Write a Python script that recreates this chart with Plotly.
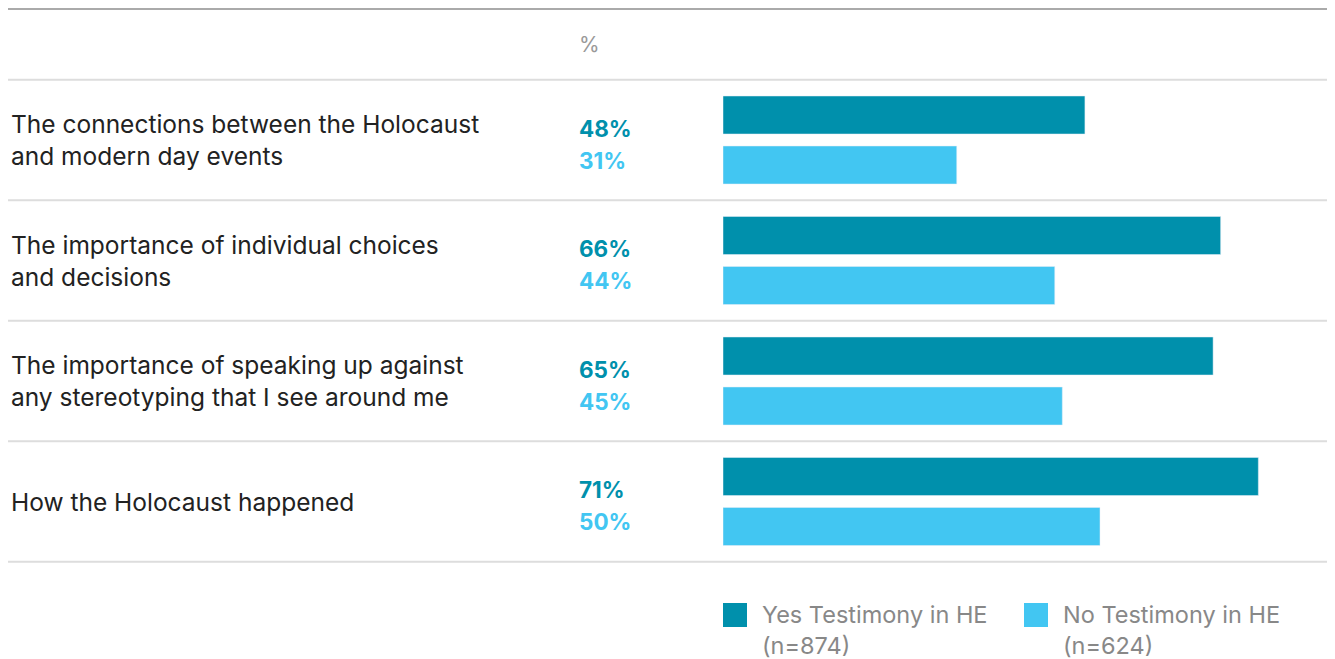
import plotly.graph_objects as go

# categories and values (percent)
statements = [
    'The connections between the Holocaust<br>and modern day events',
    'The importance of individual choices<br>and decisions',
    'The importance of speaking up against<br>any stereotyping that I see around me',
    'How the Holocaust happened',
]
yes_values = [48, 66, 65, 71]
no_values = [31, 44, 45, 50]
series_names = ['Yes Testimony in HE', 'No Testimony in HE']
series_n = ['(n=874)', '(n=624)']

YES_COLOR = '#0090AC'
NO_COLOR = '#42C6F2'
W, H = 1335, 659
FONT = 'Inter'
ROW = 120.5   # px per row
ROW0 = 132    # px from top to the centre of the first row
X0 = 715      # px where the bars start
PX_PER_PCT = 7.54

cats = list(range(len(statements)))

fig = go.Figure()
fig.add_trace(go.Bar(y=cats, x=yes_values, orientation='h', marker_color=YES_COLOR,
                     name=series_names[0], showlegend=False, hoverinfo='skip'))
fig.add_trace(go.Bar(y=cats, x=no_values, orientation='h', marker_color=NO_COLOR,
                     name=series_names[1], showlegend=False, hoverinfo='skip'))

# row labels and value labels
for i, (label, yv, nv) in enumerate(zip(statements, yes_values, no_values)):
    fig.add_annotation(x=0.5 / W, xref='paper', y=i, yref='y', text=label,
                       xanchor='left', align='left', showarrow=False,
                       font=dict(family=FONT, size=24.5, color='#222222'))
    fig.add_annotation(x=569 / W, xref='paper', y=i, yref='y', yshift=12,
                       text=f'<b>{yv}%</b>', xanchor='left', showarrow=False,
                       font=dict(family=FONT, size=22.5, color=YES_COLOR))
    fig.add_annotation(x=569 / W, xref='paper', y=i, yref='y', yshift=-20,
                       text=f'<b>{nv}%</b>', xanchor='left', showarrow=False,
                       font=dict(family=FONT, size=22.5, color=NO_COLOR))

fig.add_annotation(x=569 / W, xref='paper', y=1 - 36 / H, yref='paper', text='%',
                   xanchor='left', yanchor='middle', showarrow=False,
                   font=dict(family=FONT, size=21, color='#999999'))

# separators between rows + top rule
for b in [i - 0.5 for i in range(len(statements) + 1)]:
    fig.add_shape(type='line', xref='paper', x0=0, x1=1, yref='y', y0=b, y1=b,
                  line=dict(color='#DDDDDD', width=2))
fig.add_shape(type='line', xref='paper', x0=0, x1=1, yref='paper',
              y0=1 - 1 / H, y1=1 - 1 / H, line=dict(color='#AAAAAA', width=2))

# legend drawn by hand: square + two-line label
for k, (name, n, color) in enumerate(zip(series_names, series_n, [YES_COLOR, NO_COLOR])):
    sx = [715, 1016][k]
    fig.add_shape(type='rect', xref='paper', yref='paper',
                  x0=sx / W, x1=(sx + 24) / W, y0=1 - 595 / H, y1=1 - 619 / H,
                  fillcolor=color, line=dict(width=0))
    fig.add_annotation(x=(sx + 37) / W, xref='paper', y=1 - 622 / H, yref='paper',
                       text=f'{name}<br>{n}', xanchor='left', yanchor='middle',
                       align='left', showarrow=False,
                       font=dict(family=FONT, size=23.5, color='#888888'))

fig.update_layout(
    width=W, height=H,
    margin=dict(l=0, r=0, t=0, b=0),
    paper_bgcolor='white', plot_bgcolor='white',
    barmode='group', bargap=1 - 100 / ROW, bargroupgap=0.24,
    showlegend=False,
    font=dict(family=FONT),
    xaxis=dict(domain=[X0 / W, 1], range=[0, (W - X0) / PX_PER_PCT],
               visible=False, fixedrange=True),
    yaxis=dict(range=[(H - ROW0) / ROW, -ROW0 / ROW], visible=False, fixedrange=True),
)

fig.write_html('out.html')
